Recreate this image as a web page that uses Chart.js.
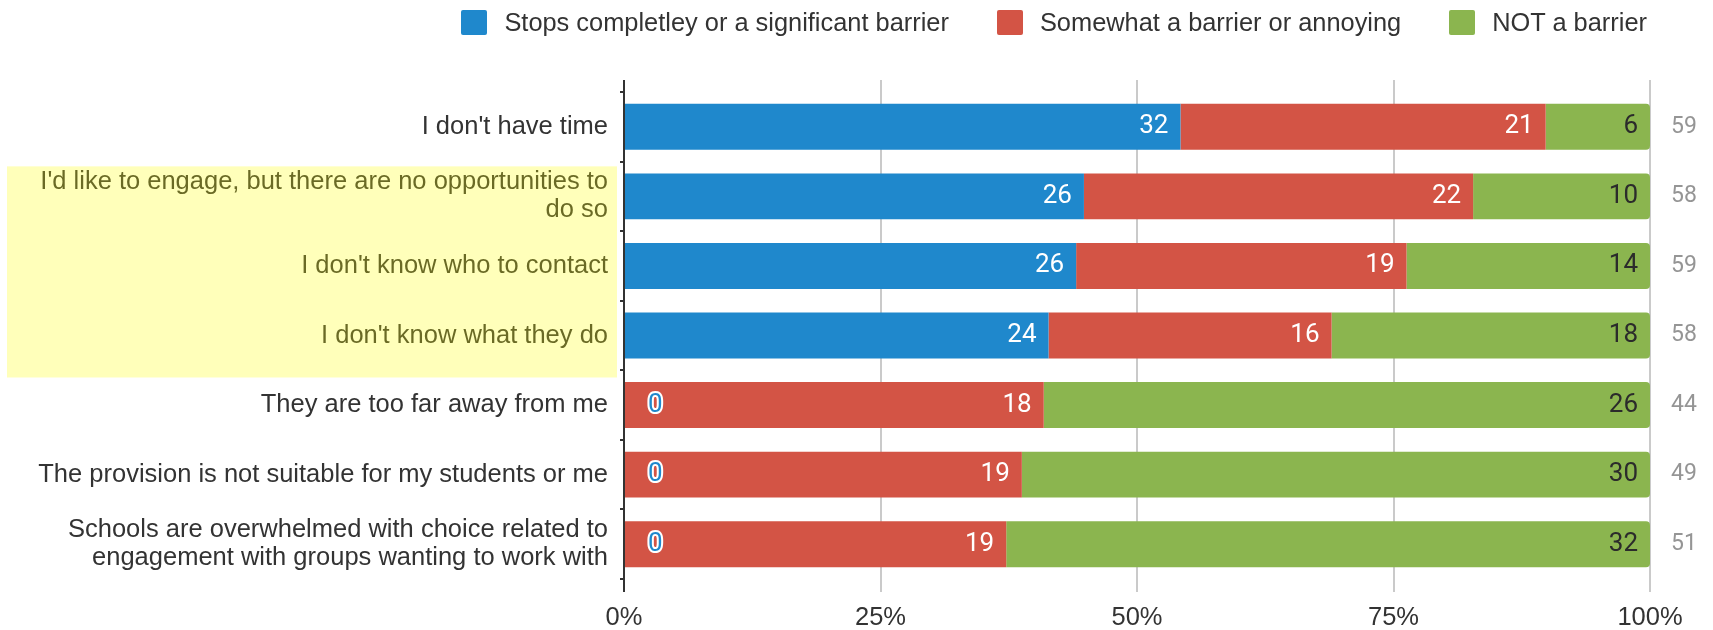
<!DOCTYPE html>
<html>
<head>
<meta charset="utf-8">
<title>Barriers to engagement</title>
<script src="https://cdn.jsdelivr.net/npm/chart.js@4"></script>
<style>
  html, body { margin: 0; padding: 0; background: #fff; }
  #wrap { position: relative; width: 1713px; height: 630px; }
  #legend {
    position: absolute; top: 10px; right: 66px;
    display: flex; gap: 48px;
    font: 25.4px "Liberation Sans", Arial, sans-serif; color: #333;
  }
  #legend .item { display: flex; align-items: center; height: 25px; white-space: nowrap; }
  #legend .box { width: 26px; height: 25px; margin-right: 17px; border-radius: 2px; }
</style>
</head>
<body>
<div id="wrap">
  <canvas id="chart" width="1713" height="630"></canvas>
  <div id="legend"></div>
</div>
<script>
// Survey answers: number of respondents per reason and response
const categories = [
  "I don't have time",
  ["I'd like to engage, but there are no opportunities to", "do so"],
  "I don't know who to contact",
  "I don't know what they do",
  "They are too far away from me",
  "The provision is not suitable for my students or me",
  ["Schools are overwhelmed with choice related to", "engagement with groups wanting to work with"]
];
const seriesNames = [
  "Stops completley or a significant barrier",
  "Somewhat a barrier or annoying",
  "NOT a barrier"
];
const stopsCounts    = [32, 26, 26, 24, 0, 0, 0];
const somewhatCounts = [21, 22, 19, 16, 18, 19, 19];
const notCounts      = [6, 10, 14, 18, 26, 30, 32];
const percentTicks   = [0, 25, 50, 75, 100];

const totals = categories.map((_, i) => stopsCounts[i] + somewhatCounts[i] + notCounts[i]);
const toPercent = counts => counts.map((n, i) => n / totals[i] * 100);

const TEXT = '#333333';
const GRID = '#cacaca';
const labelFont = '"Liberation Sans", Arial, sans-serif';

// Count labels inside each segment, row totals on the right, highlighted rows
const segmentText = {
  id: 'segmentText',
  afterDatasetsDraw(chart) {
    const ctx = chart.ctx;
    ctx.save();
    ctx.textBaseline = 'middle';
    ctx.font = '26px Roboto';
    chart.data.datasets.forEach((ds, di) => {
      const meta = chart.getDatasetMeta(di);
      meta.data.forEach((bar, i) => {
        const n = ds.counts[i];
        if (n === 0) {
          ctx.textAlign = 'left';
          ctx.lineJoin = 'round';
          ctx.lineWidth = 4;
          ctx.strokeStyle = '#ffffff';
          ctx.strokeText('0', bar.base + 24, bar.y);
          ctx.fillStyle = ds.backgroundColor;
          ctx.fillText('0', bar.base + 24, bar.y);
        } else {
          ctx.textAlign = 'right';
          ctx.fillStyle = ds.labelColor;
          ctx.fillText(String(n), bar.x - 12, bar.y);
        }
      });
    });
    const y = chart.scales.y;
    ctx.font = '23px Roboto';
    ctx.fillStyle = '#959595';
    ctx.textAlign = 'left';
    totals.forEach((t, i) => {
      ctx.fillText(String(t), chart.chartArea.right + 21, y.getPixelForValue(i));
    });
    ctx.restore();
  },
  afterDraw(chart) {
    const y = chart.scales.y;
    const top = y.getPixelForValue(1) - 30;
    const bottom = y.getPixelForValue(3) + 42;
    const ctx = chart.ctx;
    ctx.save();
    ctx.fillStyle = 'rgba(255, 255, 0, 0.27)';
    ctx.fillRect(7, top, chart.chartArea.left - 7 - 7, bottom - top);
    ctx.restore();
  }
};

const gridColor = c => (c.tick && c.tick.value === 0 ? TEXT : GRID);

const chart = new Chart(document.getElementById('chart'), {
  type: 'bar',
  data: {
    labels: categories,
    datasets: [
      { label: seriesNames[0], data: toPercent(stopsCounts), counts: stopsCounts,
        backgroundColor: '#1f88cc', labelColor: '#ffffff' },
      { label: seriesNames[1], data: toPercent(somewhatCounts), counts: somewhatCounts,
        backgroundColor: '#d35445', labelColor: '#ffffff' },
      { label: seriesNames[2], data: toPercent(notCounts), counts: notCounts,
        backgroundColor: '#8bb54f', labelColor: '#2b2b2b',
        borderRadius: 4, borderSkipped: 'start' }
    ]
  },
  options: {
    indexAxis: 'y',
    responsive: false,
    animation: false,
    layout: { padding: { top: 80, right: 63, left: 0, bottom: 0 } },
    datasets: { bar: { categoryPercentage: 1, barPercentage: 0.66 } },
    plugins: { legend: { display: false }, tooltip: { enabled: false } },
    scales: {
      x: {
        stacked: true, min: 0, max: 100,
        afterBuildTicks: s => { s.ticks = percentTicks.map(v => ({ value: v })); },
        afterFit: s => { s.height = 51; },
        border: { display: false },
        grid: { color: gridColor, lineWidth: 2, tickLength: 13 },
        ticks: { padding: 13, color: TEXT, maxRotation: 0, callback: v => v + '%',
                 font: { family: labelFont, size: 25.5, lineHeight: 1 } }
      },
      x2: {
        type: 'linear', position: 'top', min: 0, max: 100,
        afterBuildTicks: s => { s.ticks = percentTicks.map(v => ({ value: v })); },
        border: { display: false },
        grid: { color: gridColor, lineWidth: 2, tickLength: 12, drawOnChartArea: false },
        ticks: { display: false }
      },
      y: {
        stacked: true,
        afterFit: s => { s.width = 624; },
        border: { display: true, color: TEXT, width: 2 },
        grid: { offset: true, drawOnChartArea: false, tickLength: 4, color: TEXT, lineWidth: 2 },
        ticks: { padding: 12, color: TEXT,
                 font: { family: labelFont, size: 25.5, lineHeight: 1.1 } }
      }
    }
  },
  plugins: [segmentText]
});

// Legend built from the chart's own datasets
const legend = document.getElementById('legend');
chart.data.datasets.forEach(ds => {
  const item = document.createElement('div');
  item.className = 'item';
  const box = document.createElement('span');
  box.className = 'box';
  box.style.background = ds.backgroundColor;
  const txt = document.createElement('span');
  txt.textContent = ds.label;
  item.appendChild(box);
  item.appendChild(txt);
  legend.appendChild(item);
});
</script>
</body>
</html>
